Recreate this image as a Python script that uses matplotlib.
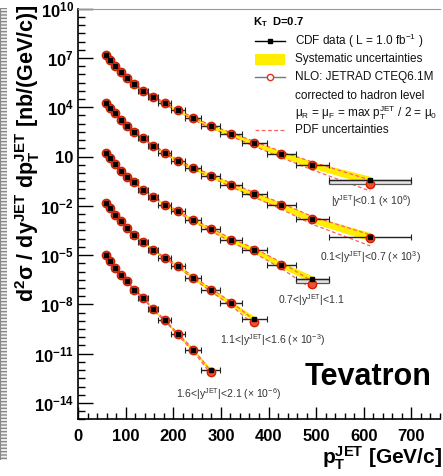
import numpy as np
import matplotlib.pyplot as plt
from matplotlib.lines import Line2D
from matplotlib.patches import Rectangle
from matplotlib.ticker import FixedLocator, FixedFormatter, MultipleLocator

plt.rcParams['font.family'] = ['Liberation Sans', 'DejaVu Sans']
plt.rcParams['mathtext.default'] = 'regular'

# pT bin edges (GeV/c), kT D=0.7
pt_edges = [54, 62, 72, 83, 96, 110, 127, 146, 169, 195, 224, 259, 298,
            344, 396, 457, 527, 700]

# measured cross sections, nb/(GeV/c), before scaling
xs_y01 = [15.1, 7.6, 3.3, 1.45, 0.63, 0.27, 0.102, 0.045, 0.017, 6.5e-3,
          2.1e-3, 6.9e-4, 2.3e-4, 6.3e-5, 1.45e-5, 3.1e-6, 3.5e-7]
xs_y07 = [17.0, 8.5, 4.2, 1.65, 0.70, 0.30, 0.13, 0.046, 0.017, 5.6e-3,
          2.0e-3, 6.8e-4, 1.95e-4, 4.9e-5, 1.05e-5, 1.5e-6, 1.3e-7]
xs_y11 = [16.6, 8.3, 3.5, 1.35, 0.59, 0.28, 0.098, 0.037, 0.012, 4.6e-3,
          1.3e-3, 3.8e-4, 8.3e-5, 2.0e-5, 2.6e-6, 3.4e-7]
xs_y16 = [15.8, 6.9, 2.6, 1.15, 0.44, 0.166, 0.063, 0.020, 6.8e-3, 2.2e-3,
          4.3e-4, 7.9e-5, 1.15e-5, 1.3e-6]
xs_y21 = [10.2, 4.5, 1.7, 0.65, 0.25, 0.079, 0.026, 5.0e-3, 1.1e-3, 1.55e-4,
          1.7e-5, 9.5e-7]

# NLO / data, read from the open circles
nlo_y01 = [1.0] * 16 + [0.65]
nlo_y07 = [1.0] * 16 + [0.8]
nlo_y11 = [1.0] * 15 + [0.5]
nlo_y16 = [1.0] * 13 + [0.65]
nlo_y21 = [1.0] * 11 + [0.8]

# relative systematic and PDF uncertainties per pT bin
sys_up = [0.12, 0.12, 0.12, 0.12, 0.13, 0.14, 0.15, 0.17, 0.19, 0.22,
          0.26, 0.30, 0.36, 0.44, 0.52, 0.62, 0.80]
sys_dn = [0.11, 0.11, 0.11, 0.11, 0.12, 0.12, 0.13, 0.15, 0.16, 0.18,
          0.21, 0.24, 0.27, 0.31, 0.35, 0.39, 0.45]
pdf_rel = [0.05, 0.05, 0.05, 0.06, 0.06, 0.07, 0.08, 0.09, 0.11, 0.13,
           0.16, 0.20, 0.25, 0.32, 0.40, 0.50, 0.65]

series = [xs_y01, xs_y07, xs_y11, xs_y16, xs_y21]
nlos = [nlo_y01, nlo_y07, nlo_y11, nlo_y16, nlo_y21]
scales = [1e6, 1e3, 1.0, 1e-3, 1e-6]
labels = [r'|y$^{JET}$|<0.1 (× 10$^{6}$)',
          r'0.1<|y$^{JET}$|<0.7 (× 10$^{3}$)',
          r'0.7<|y$^{JET}$|<1.1',
          r'1.1<|y$^{JET}$|<1.6 (× 10$^{-3}$)',
          r'1.6<|y$^{JET}$|<2.1 (× 10$^{-6}$)']
label_pos = [(616, 10**-1.70), (614, 10**-5.11), (490, 10**-7.73),
             (408, 10**-10.16), (317, 10**-13.45)]
boxed = [True, False, True, False, False]

ytick_vals = [1e10, 1e7, 1e4, 1e1, 1e-2, 1e-5, 1e-8, 1e-11, 1e-14]
ytick_text = [r'10$^{10}$', r'10$^{7}$', r'10$^{4}$', '10', r'10$^{-2}$',
              r'10$^{-5}$', r'10$^{-8}$', r'10$^{-11}$', r'10$^{-14}$']

W, H = 443, 476


def px(x, y):
    return x / W, 1 - y / H


fig = plt.figure(figsize=(W / 100, H / 100), dpi=100)
ax = fig.add_axes([78 / W, 1 - 419.4 / H, 362 / W, 410.7 / H])

edges = np.array(pt_edges, dtype=float)
centers = 0.5 * (edges[:-1] + edges[1:])

for xs, nl, sc, lab, lp, bx in zip(series, nlos, scales, labels, label_pos, boxed):
    n = len(xs)
    x = centers[:n]
    lo = edges[:n]
    hi = edges[1:n + 1]
    y = np.array(xs) * sc
    th = y * np.array(nl)
    up = np.array(sys_up[:n])
    dn = np.array(sys_dn[:n])
    pdf = np.array(pdf_rel[:n])
    ax.fill_between(x, y * (1 - dn), y * (1 + up), color='#ffee00', lw=0, zorder=1)
    ax.plot(x, th * (1 + pdf), ls=(0, (3, 2)), color='#ff6060', lw=0.9, zorder=2)
    ax.plot(x, th * (1 - pdf), ls=(0, (3, 2)), color='#ff6060', lw=0.9, zorder=2)
    ax.errorbar(x, y, xerr=[x - lo, hi - x], fmt='none', ecolor='#222222',
                elinewidth=1.0, capsize=2, capthick=0.8, zorder=3)
    if bx:
        ax.add_patch(Rectangle((lo[-1], y[-1] * 0.62), hi[-1] - lo[-1], y[-1] * 0.38,
                               facecolor='#e4e4e4', edgecolor='#555555', lw=0.9, zorder=2.5))
    ax.plot(x, th, 'o', ms=6, mfc='#f05030', mec='#d02000', mew=1.0, zorder=4)
    ax.plot(x, y, 's', ms=2.6, color='black', zorder=5)
    ax.text(lp[0], lp[1], lab, fontsize=7.5, color='#333333', ha='center', va='center')

ax.text(610, 10**-12.9, 'Tevatron', fontsize=22, fontweight='bold', ha='center', va='baseline')

ax.set_yscale('log')
ax.set_xlim(0, 760)
ax.set_ylim(1e-15, 1e10)
ax.yaxis.set_major_locator(FixedLocator(ytick_vals))
ax.yaxis.set_major_formatter(FixedFormatter(ytick_text))
ax.yaxis.set_minor_locator(FixedLocator(10.0 ** np.arange(-15, 10.01, 0.5)))
ax.yaxis.set_minor_formatter(FixedFormatter([]))
ax.xaxis.set_major_locator(MultipleLocator(100))
ax.xaxis.set_minor_locator(MultipleLocator(20))
ax.tick_params(which='both', direction='in', top=False, right=False)
ax.tick_params(axis='y', which='major', length=11, width=1, pad=3)
ax.tick_params(axis='y', which='minor', length=5, width=1)
ax.tick_params(axis='x', which='major', length=9, width=1, pad=7)
ax.tick_params(axis='x', which='minor', length=4, width=1)
for t in ax.get_xticklabels() + ax.get_yticklabels():
    t.set_fontsize(12)
    t.set_fontweight('bold')
ax.spines['right'].set_visible(False)
ax.spines['top'].set_color('#999999')
ax.spines['left'].set_linewidth(1.2)
ax.spines['bottom'].set_linewidth(1.2)

ax.set_xlabel(r'p$_T^{JET}$ [GeV/c]', fontsize=15, fontweight='bold', loc='right')
ax.xaxis.set_label_coords(1.005, -0.062)
ax.set_ylabel(r'd$^2$σ / dy$^{JET}$ dp$_T^{JET}$ [nb/(GeV/c)]', fontsize=15.5,
              fontweight='bold', loc='top')
ax.yaxis.set_label_coords(-0.1, 1.01)

# legend, drawn by hand
fig.text(*px(253, 22), r'K$_T$  D=0.7', fontsize=8, fontweight='bold', va='center')
leg_text = ['CDF data ( L = 1.0 fb$^{-1}$ )', 'Systematic uncertainties',
            'NLO: JETRAD CTEQ6.1M', 'corrected to hadron level',
            r'μ$_R$ = μ$_F$ = max p$_T^{JET}$ / 2 = μ$_0$', 'PDF uncertainties']
leg_y = [41, 59, 77, 96, 113, 130]
for s, yy in zip(leg_text, leg_y):
    fig.text(*px(295, yy), s, fontsize=8.5, va='center', color='#111111')
a, b = px(255, 41), px(285, 41)
fig.add_artist(Line2D([a[0], b[0]], [a[1], b[1]], color='black', lw=1,
                      transform=fig.transFigure))
fig.add_artist(Line2D([(a[0] + b[0]) / 2], [a[1]], marker='s', ms=3, color='black',
                      transform=fig.transFigure))
r0 = px(255, 65)
fig.add_artist(Rectangle(r0, 30 / W, 11 / H, facecolor='#ffee00', lw=0,
                         transform=fig.transFigure))
a, b = px(255, 77), px(285, 77)
fig.add_artist(Line2D([a[0], b[0]], [a[1], b[1]], color='#777777', lw=1,
                      transform=fig.transFigure))
fig.add_artist(Line2D([(a[0] + b[0]) / 2], [a[1]], marker='o', ms=4.5, mfc='white',
                      mec='#e03020', mew=1, transform=fig.transFigure))
a, b = px(255, 130), px(285, 130)
fig.add_artist(Line2D([a[0], b[0]], [a[1], b[1]], color='#ff6060', lw=0.9,
                      ls=(0, (3, 2)), transform=fig.transFigure))

# scanned page edge at far left
strip = fig.add_axes([0, 1 - 460 / H, 7 / W, 452 / H])
strip.add_patch(Rectangle((0, 0), 1, 1, facecolor='#eeeeee', edgecolor='#888888',
                          hatch='-----', lw=0.8))
strip.set_axis_off()

fig.savefig('out.png', dpi=100)
